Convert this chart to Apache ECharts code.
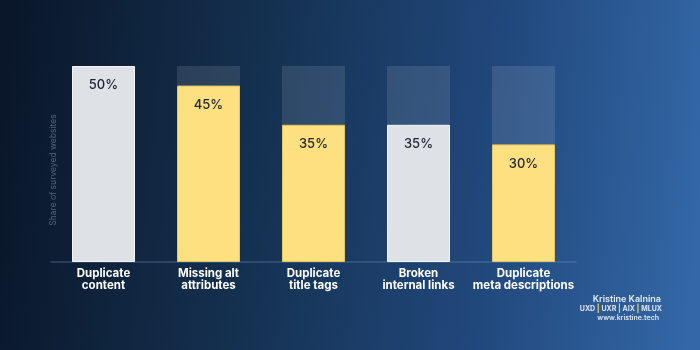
<!DOCTYPE html>
<html>
<head>
<meta charset="utf-8">
<script src="https://cdn.jsdelivr.net/npm/echarts@6/dist/echarts.min.js"></script>
<style>
html,body{margin:0;padding:0;background:#0d1d33;}
#c{width:700px;height:350px;}
</style>
</head>
<body>
<div id="c"></div>
<script>
const categories = ['Duplicate\ncontent', 'Missing alt\nattributes', 'Duplicate\ntitle tags', 'Broken\ninternal links', 'Duplicate\nmeta descriptions'];
const values = [50, 45, 35, 35, 30];
const yMin = 0;
const yMax = 50;
const yAxisTitle = 'Share of surveyed websites';

const barColors = ['#dee1e5', '#fde07f', '#fde07f', '#dee1e5', '#fde07f'];
const barBorders = ['#f4f5f7', '#e8c65e', '#e8c65e', '#f4f5f7', '#e8c65e'];

const chart = echarts.init(document.getElementById('c'), null, {renderer: 'canvas'});
chart.setOption({
  animation: false,
  backgroundColor: new echarts.graphic.LinearGradient(0, 0.4, 1, 0.6, [
    {offset: 0, color: '#0a172a'},
    {offset: 0.35, color: '#14304f'},
    {offset: 0.7, color: '#21487c'},
    {offset: 1, color: '#3367a6'}
  ]),
  grid: {left: 51, right: 124, top: 66, bottom: 88},
  xAxis: {
    type: 'category',
    data: categories,
    axisLine: {show: true, lineStyle: {color: 'rgba(120,150,190,0.35)', width: 1.5}},
    axisTick: {show: false},
    axisLabel: {
      color: '#ffffff', fontFamily: 'Inter', fontWeight: 'bold',
      fontSize: 11.5, lineHeight: 12, margin: 6, interval: 0
    }
  },
  yAxis: {
    type: 'value', min: yMin, max: yMax,
    show: false, splitLine: {show: false}
  },
  series: [{
    type: 'bar',
    barWidth: 63,
    showBackground: true,
    backgroundStyle: {color: 'rgba(255,255,255,0.11)'},
    data: values.map((v, i) => ({
      value: v,
      itemStyle: {color: barColors[i], borderColor: barBorders[i], borderWidth: 1}
    })),
    label: {
      show: true, position: 'insideTop', distance: 13,
      formatter: '{c}%', color: '#222831',
      fontFamily: 'Inter', fontSize: 13, fontWeight: 500
    }
  }],
  graphic: [
    {
      type: 'text', x: 53, y: 170, rotation: Math.PI / 2,
      style: {
        text: yAxisTitle, fill: '#56667c', fontFamily: 'Inter',
        fontSize: 8.5, align: 'center', verticalAlign: 'middle'
      }
    },
    {
      type: 'text', x: 661, y: 299,
      style: {
        text: 'Kristine Kalnina', fill: '#e3eaf4', fontFamily: 'Inter',
        fontSize: 9, fontWeight: 600, align: 'right', verticalAlign: 'middle'
      }
    },
    {
      type: 'text', x: 662, y: 308.5,
      style: {
        text: '{t|UXD }{p||}{t| UXR }{p||}{t| AIX }{p||}{t| MLUX}',
        align: 'right', verticalAlign: 'middle',
        rich: {
          t: {fill: '#dde5f0', fontFamily: 'Inter', fontSize: 7, fontWeight: 'bold'},
          p: {fill: '#f3cf5d', fontFamily: 'Inter', fontSize: 8, fontWeight: 'bold'}
        }
      }
    },
    {
      type: 'text', x: 659, y: 318,
      style: {
        text: 'www.kristine.tech', fill: '#dde5f0', fontFamily: 'Inter',
        fontSize: 7, fontWeight: 600, align: 'right', verticalAlign: 'middle'
      }
    }
  ]
});
</script>
</body>
</html>
